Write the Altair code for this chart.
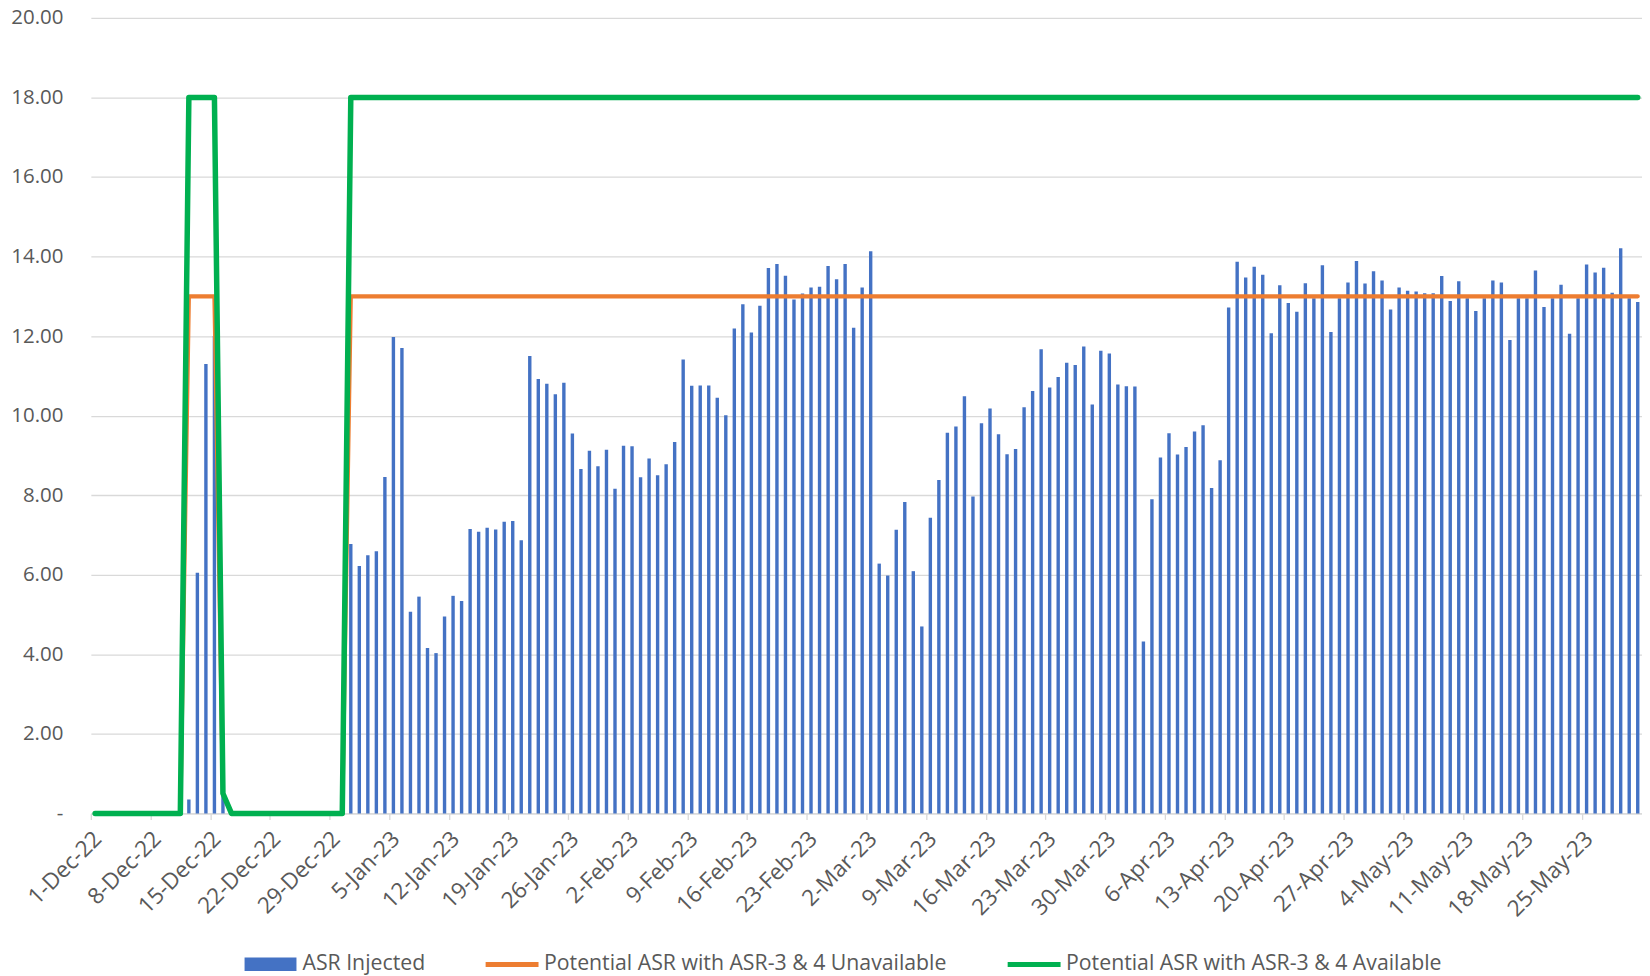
import altair as alt
import pandas as pd

# ---------------- data ----------------
start_date = "2022-12-01"
n_days = 182
# one entry per day, 1-Dec-22 .. 31-May-23 (plotted at mid-day)
dates = pd.date_range(start_date, periods=n_days, freq="D").strftime("%Y-%m-%dT12:00:00Z").tolist()

asr_injected = [
    # Dec-22
    0, 0, 0, 0, 0, 0, 0, 0, 0, 0, 0, 0.35, 6.05, 11.30, 12.00, 0.50,
    0, 0, 0, 0, 0, 0, 0, 0, 0, 0, 0, 0, 0, 0, 6.77,
    # Jan-23
    6.22, 6.49, 6.59, 8.46, 11.98, 11.70, 5.07, 5.45, 4.16, 4.03, 4.95, 5.47, 5.34, 7.15, 7.08, 7.18,
    7.14, 7.33, 7.35, 6.87, 11.50, 10.92, 10.80, 10.54, 10.83, 9.55, 8.66, 9.12, 8.73, 9.14, 8.16,
    # Feb-23
    9.24, 9.23, 8.45, 8.92, 8.50, 8.78, 9.34, 11.41, 10.75, 10.76, 10.76, 10.45, 10.01, 12.19,
    12.80, 12.09, 12.76, 13.71, 13.81, 13.52, 12.92, 13.07, 13.22, 13.24, 13.76, 13.43, 13.81, 12.21,
    # Mar-23
    13.22, 14.13, 6.28, 5.98, 7.13, 7.83, 6.09, 4.70, 7.43, 8.38, 9.57, 9.73, 10.49, 7.97, 9.81, 10.18,
    9.53, 9.03, 9.16, 10.21, 10.62, 11.67, 10.71, 10.97, 11.33, 11.27, 11.74, 10.28, 11.63, 11.56, 10.78,
    # Apr-23
    10.74, 10.73, 4.32, 7.90, 8.95, 9.56, 9.02, 9.21, 9.60, 9.76, 8.18, 8.88, 12.72, 13.87, 13.47,
    13.74, 13.54, 12.07, 13.28, 12.83, 12.61, 13.33, 12.95, 13.78, 12.10, 12.95, 13.35, 13.89, 13.32, 13.63,
    # May-23
    13.40, 12.67, 13.22, 13.14, 13.12, 13.08, 13.08, 13.51, 12.88, 13.38, 12.95, 12.63, 12.95, 13.40, 13.35, 11.90,
    12.95, 12.95, 13.65, 12.73, 12.95, 13.29, 12.06, 12.95, 13.80, 13.60, 13.72, 13.09, 14.21, 12.95, 12.86,
]

potential_unavailable = [
    # Dec-22
    0, 0, 0, 0, 0, 0, 0, 0, 0, 0, 0, 13, 13, 13, 13, 0.5,
    0, 0, 0, 0, 0, 0, 0, 0, 0, 0, 0, 0, 0, 0, 13,
    # Jan-23
    13, 13, 13, 13, 13, 13, 13, 13, 13, 13, 13, 13, 13, 13, 13, 13,
    13, 13, 13, 13, 13, 13, 13, 13, 13, 13, 13, 13, 13, 13, 13,
    # Feb-23
    13, 13, 13, 13, 13, 13, 13, 13, 13, 13, 13, 13, 13, 13,
    13, 13, 13, 13, 13, 13, 13, 13, 13, 13, 13, 13, 13, 13,
    # Mar-23
    13, 13, 13, 13, 13, 13, 13, 13, 13, 13, 13, 13, 13, 13, 13, 13,
    13, 13, 13, 13, 13, 13, 13, 13, 13, 13, 13, 13, 13, 13, 13,
    # Apr-23
    13, 13, 13, 13, 13, 13, 13, 13, 13, 13, 13, 13, 13, 13, 13,
    13, 13, 13, 13, 13, 13, 13, 13, 13, 13, 13, 13, 13, 13, 13,
    # May-23
    13, 13, 13, 13, 13, 13, 13, 13, 13, 13, 13, 13, 13, 13, 13, 13,
    13, 13, 13, 13, 13, 13, 13, 13, 13, 13, 13, 13, 13, 13, 13,
]

potential_available = [
    # Dec-22
    0, 0, 0, 0, 0, 0, 0, 0, 0, 0, 0, 18, 18, 18, 18, 0.5,
    0, 0, 0, 0, 0, 0, 0, 0, 0, 0, 0, 0, 0, 0, 18,
    # Jan-23
    18, 18, 18, 18, 18, 18, 18, 18, 18, 18, 18, 18, 18, 18, 18, 18,
    18, 18, 18, 18, 18, 18, 18, 18, 18, 18, 18, 18, 18, 18, 18,
    # Feb-23
    18, 18, 18, 18, 18, 18, 18, 18, 18, 18, 18, 18, 18, 18,
    18, 18, 18, 18, 18, 18, 18, 18, 18, 18, 18, 18, 18, 18,
    # Mar-23
    18, 18, 18, 18, 18, 18, 18, 18, 18, 18, 18, 18, 18, 18, 18, 18,
    18, 18, 18, 18, 18, 18, 18, 18, 18, 18, 18, 18, 18, 18, 18,
    # Apr-23
    18, 18, 18, 18, 18, 18, 18, 18, 18, 18, 18, 18, 18, 18, 18,
    18, 18, 18, 18, 18, 18, 18, 18, 18, 18, 18, 18, 18, 18, 18,
    # May-23
    18, 18, 18, 18, 18, 18, 18, 18, 18, 18, 18, 18, 18, 18, 18, 18,
    18, 18, 18, 18, 18, 18, 18, 18, 18, 18, 18, 18, 18, 18, 18,
]

series_names = [
    "ASR Injected",
    "Potential ASR with ASR-3 & 4 Unavailable",
    "Potential ASR with ASR-3 & 4 Available",
]
series_colors = ["#4472C4", "#ED7D31", "#00B050"]

tick_dates = [
    (2022, 12, 1), (2022, 12, 8), (2022, 12, 15), (2022, 12, 22), (2022, 12, 29),
    (2023, 1, 5), (2023, 1, 12), (2023, 1, 19), (2023, 1, 26), (2023, 2, 2), (2023, 2, 9),
    (2023, 2, 16), (2023, 2, 23), (2023, 3, 2), (2023, 3, 9), (2023, 3, 16), (2023, 3, 23),
    (2023, 3, 30), (2023, 4, 6), (2023, 4, 13), (2023, 4, 20), (2023, 4, 27), (2023, 5, 4),
    (2023, 5, 11), (2023, 5, 18), (2023, 5, 25),
]
y_ticks = [0, 2, 4, 6, 8, 10, 12, 14, 16, 18, 20]

# ---------------- chart ----------------
FONT = "Open Sans"
TXT = "#595959"
GRID = "#d9d9d9"

bar_df = pd.DataFrame({"date": dates, "value": asr_injected, "series": series_names[0]})
orange_df = pd.DataFrame({"date": dates, "value": potential_unavailable, "series": series_names[1]})
green_df = pd.DataFrame({"date": dates, "value": potential_available, "series": series_names[2]})

x_enc = alt.X(
    "date:T",
    scale=alt.Scale(
        type="utc",
        domain=[alt.DateTime(year=2022, month=12, date=1, utc=True),
                alt.DateTime(year=2023, month=6, date=1, utc=True)],
        nice=False,
        padding=0,
    ),
    axis=alt.Axis(
        title=None,
        values=[alt.DateTime(year=y, month=m, date=d, utc=True) for (y, m, d) in tick_dates],
        labelExpr="utcFormat(datum.value, '%-d-%b-%y')",
        labelAngle=315,
        labelAlign="right",
        labelBaseline="middle",
        labelFont=FONT,
        labelFontSize=22.5,
        labelColor=TXT,
        labelOffset=6.5,
        labelPadding=15.5,
        labelOverlap=False,
        labelFlush=False,
        labelBound=False,
        grid=False,
        domainColor=GRID,
        domainWidth=1.3,
        tickColor=GRID,
        tickWidth=1.3,
        tickSize=6,
    ),
)

y_enc = alt.Y(
    "value:Q",
    scale=alt.Scale(domain=[0, 20], nice=False, zero=True),
    axis=alt.Axis(
        title=None,
        values=y_ticks,
        labelExpr="datum.value == 0 ? '-\u00a0\u00a0' : format(datum.value, '.2f')",
        labelFont=FONT,
        labelFontSize=20.5,
        labelColor=TXT,
        labelPadding=28,
        domain=False,
        ticks=False,
        tickSize=0,
        grid=True,
        gridColor=GRID,
        gridWidth=1.3,
    ),
)

bars = alt.Chart(bar_df).mark_bar(size=3.4).encode(
    x=x_enc,
    y=y_enc,
    fill=alt.Fill(
        "series:N",
        scale=alt.Scale(domain=series_names[:1], range=series_colors[:1]),
        legend=alt.Legend(
            title=None,
            orient="none",
            legendX=154,
            legendY=922,
            padding=0,
            symbolType="M-1,-0.26L1,-0.26L1,0.26L-1,0.26Z",
            symbolSize=2704,
            symbolStrokeWidth=0,
            labelFont=FONT,
            labelFontSize=21.3,
            labelColor=TXT,
            labelOffset=6,
            labelLimit=0,
        ),
    ),
)

stroke_scale = alt.Scale(domain=series_names[1:], range=series_colors[1:])
stroke_legend = alt.Legend(
    title=None,
    orient="none",
    direction="horizontal",
    legendX=393,
    legendY=919,
    padding=0,
    symbolType="M-1,0L1,0",
    symbolSize=2809,
    symbolStrokeWidth=5,
    symbolFillColor="transparent",
    labelFont=FONT,
    labelFontSize=21.3,
    labelColor=TXT,
    labelOffset=3,
    labelLimit=0,
    columnPadding=50,
)

orange = alt.Chart(orange_df).mark_line(strokeWidth=4.2, strokeJoin="round", strokeCap="round").encode(
    x=x_enc, y=y_enc,
    stroke=alt.Stroke("series:N", scale=stroke_scale, legend=stroke_legend),
)
green = alt.Chart(green_df).mark_line(strokeWidth=5.5, strokeJoin="round", strokeCap="round").encode(
    x=x_enc, y=y_enc,
    stroke=alt.Stroke("series:N", scale=stroke_scale, legend=stroke_legend),
)

chart = (
    alt.layer(bars, orange, green)
    .properties(
        width=1554,
        height=797,
        padding={"left": 83, "top": 9, "right": 0, "bottom": 162},
        autosize=alt.AutoSizeParams(type="none"),
        background="white",
    )
    .configure_view(stroke=None)
)

chart.save("out.html", embed_options={"renderer": "svg", "actions": False})
